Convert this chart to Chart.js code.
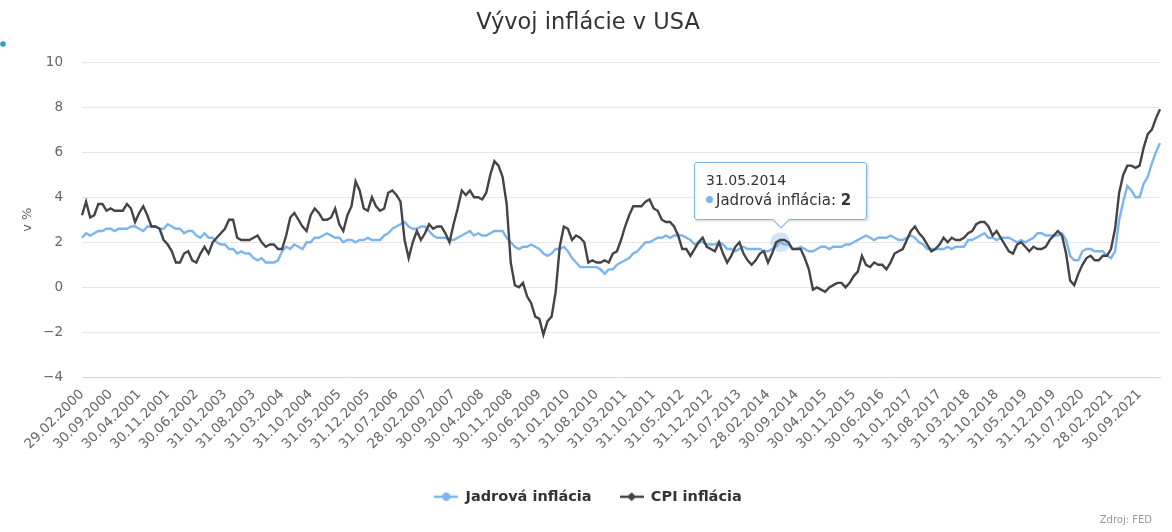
<!DOCTYPE html>
<html>
<head>
<meta charset="utf-8">
<title>Vývoj inflácie v USA</title>
<script src="https://cdn.jsdelivr.net/npm/chart.js@4/dist/chart.umd.min.js"></script>
<style>
  html, body { margin: 0; padding: 0; background: #fff; }
  #wrap { position: relative; width: 1172px; height: 532px; }
  #tip {
    position: absolute; display: none; pointer-events: none;
    background: rgba(255,255,255,0.97); border: 1px solid #7cb5ec; border-radius: 3px;
    box-shadow: 1px 1px 3px rgba(0,0,0,0.18);
    padding: 8px 15px 8px 11px; font-family: "DejaVu Sans", sans-serif; color: #333; white-space: nowrap;
  }
  #tip:after {
    content: ""; position: absolute; left: 50%; bottom: -7px; width: 11px; height: 11px; margin-left: -6px;
    background: #fff; border-right: 1px solid #7cb5ec; border-bottom: 1px solid #7cb5ec; transform: rotate(45deg);
  }
  #tip .head { font-size: 14px; line-height: 18px; }
  #tip .body { font-size: 15px; line-height: 22px; }
  #tip .dot { display: inline-block; width: 7px; height: 7px; border-radius: 50%; background: #7cb5ec; margin-right: 3px; vertical-align: 2px; }
</style>
</head>
<body>
<div id="wrap">
  <canvas id="chart" width="1172" height="532"></canvas>
  <div id="tip"><div class="head"></div><div class="body"><span class="dot"></span><span class="name"></span><b class="val"></b></div></div>
</div>
<script>
// monthly values, Feb 2000 .. Feb 2022 (year-over-year, %)
const coreInflation = [
  2.2, 2.4, 2.3, 2.4, 2.5, 2.5, 2.6, 2.6, 2.5, 2.6, 2.6,
  2.6, 2.7, 2.7, 2.6, 2.5, 2.7, 2.7, 2.7, 2.6, 2.6, 2.8, 2.7,
  2.6, 2.6, 2.4, 2.5, 2.5, 2.3, 2.2, 2.4, 2.2, 2.2, 2.0, 1.9,
  1.9, 1.7, 1.7, 1.5, 1.6, 1.5, 1.5, 1.3, 1.2, 1.3, 1.1, 1.1,
  1.1, 1.2, 1.6, 1.8, 1.7, 1.9, 1.8, 1.7, 2.0, 2.0, 2.2, 2.2,
  2.3, 2.4, 2.3, 2.2, 2.2, 2.0, 2.1, 2.1, 2.0, 2.1, 2.1, 2.2,
  2.1, 2.1, 2.1, 2.3, 2.4, 2.6, 2.7, 2.8, 2.9, 2.7, 2.6, 2.6,
  2.7, 2.7, 2.5, 2.3, 2.2, 2.2, 2.2, 2.1, 2.1, 2.2, 2.3, 2.4,
  2.5, 2.3, 2.4, 2.3, 2.3, 2.4, 2.5, 2.5, 2.5, 2.2, 2.0, 1.8,
  1.7, 1.8, 1.8, 1.9, 1.8, 1.7, 1.5, 1.4, 1.5, 1.7, 1.7, 1.8,
  1.6, 1.3, 1.1, 0.9, 0.9, 0.9, 0.9, 0.9, 0.8, 0.6, 0.8, 0.8,
  1.0, 1.1, 1.2, 1.3, 1.5, 1.6, 1.8, 2.0, 2.0, 2.1, 2.2, 2.2,
  2.3, 2.2, 2.3, 2.3, 2.3, 2.2, 2.1, 1.9, 2.0, 2.0, 1.9, 1.9,
  1.9, 2.0, 1.9, 1.7, 1.7, 1.6, 1.7, 1.8, 1.7, 1.7, 1.7, 1.7,
  1.6, 1.6, 1.7, 1.8, 2.0, 1.9, 1.9, 1.7, 1.7, 1.8, 1.7, 1.6,
  1.6, 1.7, 1.8, 1.8, 1.7, 1.8, 1.8, 1.8, 1.9, 1.9, 2.0, 2.1,
  2.2, 2.3, 2.2, 2.1, 2.2, 2.2, 2.2, 2.3, 2.2, 2.1, 2.1, 2.2,
  2.3, 2.2, 2.0, 1.9, 1.7, 1.7, 1.7, 1.7, 1.7, 1.8, 1.7, 1.8,
  1.8, 1.8, 2.1, 2.1, 2.2, 2.3, 2.4, 2.2, 2.2, 2.1, 2.2, 2.2,
  2.2, 2.1, 2.0, 2.1, 2.0, 2.1, 2.2, 2.4, 2.4, 2.3, 2.3, 2.3,
  2.3, 2.4, 2.1, 1.4, 1.2, 1.2, 1.6, 1.7, 1.7, 1.6, 1.6, 1.6,
  1.4, 1.3, 1.6, 3.0, 3.8, 4.5, 4.3, 4.0, 4.0, 4.6, 4.9, 5.5,
  6.0, 6.4
];
const cpiInflation = [
  3.2, 3.8, 3.1, 3.2, 3.7, 3.7, 3.4, 3.5, 3.4, 3.4, 3.4,
  3.7, 3.5, 2.9, 3.3, 3.6, 3.2, 2.7, 2.7, 2.6, 2.1, 1.9, 1.6,
  1.1, 1.1, 1.5, 1.6, 1.2, 1.1, 1.5, 1.8, 1.5, 2.0, 2.2, 2.4,
  2.6, 3.0, 3.0, 2.2, 2.1, 2.1, 2.1, 2.2, 2.3, 2.0, 1.8, 1.9,
  1.9, 1.7, 1.7, 2.3, 3.1, 3.3, 3.0, 2.7, 2.5, 3.2, 3.5, 3.3,
  3.0, 3.0, 3.1, 3.5, 2.8, 2.5, 3.2, 3.6, 4.7, 4.3, 3.5, 3.4,
  4.0, 3.6, 3.4, 3.5, 4.2, 4.3, 4.1, 3.8, 2.1, 1.3, 2.0, 2.5,
  2.1, 2.4, 2.8, 2.6, 2.7, 2.7, 2.4, 2.0, 2.8, 3.5, 4.3, 4.1,
  4.3, 4.0, 4.0, 3.9, 4.2, 5.0, 5.6, 5.4, 4.9, 3.7, 1.1, 0.1,
  0.0, 0.2, -0.4, -0.7, -1.3, -1.4, -2.1, -1.5, -1.3, -0.2, 1.8, 2.7,
  2.6, 2.1, 2.3, 2.2, 2.0, 1.1, 1.2, 1.1, 1.1, 1.2, 1.1, 1.5,
  1.6, 2.1, 2.7, 3.2, 3.6, 3.6, 3.6, 3.8, 3.9, 3.5, 3.4, 3.0,
  2.9, 2.9, 2.7, 2.3, 1.7, 1.7, 1.4, 1.7, 2.0, 2.2, 1.8, 1.7,
  1.6, 2.0, 1.5, 1.1, 1.4, 1.8, 2.0, 1.5, 1.2, 1.0, 1.2, 1.5,
  1.6, 1.1, 1.5, 2.0, 2.1, 2.1, 2.0, 1.7, 1.7, 1.7, 1.3, 0.8,
  -0.1, 0.0, -0.1, -0.2, 0.0, 0.1, 0.2, 0.2, 0.0, 0.2, 0.5, 0.7,
  1.4, 1.0, 0.9, 1.1, 1.0, 1.0, 0.8, 1.1, 1.5, 1.6, 1.7, 2.1,
  2.5, 2.7, 2.4, 2.2, 1.9, 1.6, 1.7, 1.9, 2.2, 2.0, 2.2, 2.1,
  2.1, 2.2, 2.4, 2.5, 2.8, 2.9, 2.9, 2.7, 2.3, 2.5, 2.2, 1.9,
  1.6, 1.5, 1.9, 2.0, 1.8, 1.6, 1.8, 1.7, 1.7, 1.8, 2.1, 2.3,
  2.5, 2.3, 1.5, 0.3, 0.1, 0.6, 1.0, 1.3, 1.4, 1.2, 1.2, 1.4,
  1.4, 1.7, 2.6, 4.2, 5.0, 5.4, 5.4, 5.3, 5.4, 6.2, 6.8, 7.0,
  7.5, 7.9
];
const seriesNames = ["Jadrová inflácia", "CPI inflácia"];
const yTicks = [-4, -2, 0, 2, 4, 6, 8, 10];
const firstMonth = [2000, 2];   // year, month of the first value
const labelEvery = 7;           // every 7th month gets a tick label
const hoverIndex = 171;         // 31.05.2014, shown in the tooltip

// month-end dates as dd.mm.yyyy
const labels = coreInflation.map((_, i) => {
  const m = firstMonth[1] - 1 + i;
  const y = firstMonth[0] + Math.floor(m / 12);
  const mm = m % 12;
  const d = new Date(y, mm + 1, 0).getDate();
  return String(d).padStart(2, "0") + "." + String(mm + 1).padStart(2, "0") + "." + y;
});

const FONT = "'DejaVu Sans', sans-serif";

// legend symbols: short line with marker
function legendIcon(color, shape) {
  const c = document.createElement("canvas");
  c.width = 24; c.height = 12;
  const g = c.getContext("2d");
  g.strokeStyle = color; g.lineWidth = 2.4;
  g.beginPath(); g.moveTo(0, 6); g.lineTo(24, 6); g.stroke();
  g.fillStyle = color;
  g.beginPath();
  if (shape === "circle") g.arc(12, 6, 4.2, 0, Math.PI * 2);
  else { g.moveTo(12, 1.5); g.lineTo(16.5, 6); g.lineTo(12, 10.5); g.lineTo(7.5, 6); g.closePath(); }
  g.fill();
  return c;
}
const legendIcons = [legendIcon("#7cb5ec", "circle"), legendIcon("#434348", "diamond")];

function externalTooltip(context) {
  const {tooltip} = context;
  const el = document.getElementById("tip");
  if (tooltip.opacity === 0 || !tooltip.dataPoints || !tooltip.dataPoints.length) { el.style.display = "none"; return; }
  const dp = tooltip.dataPoints[0];
  el.querySelector(".head").textContent = dp.label;
  el.querySelector(".name").textContent = dp.dataset.label + ": ";
  el.querySelector(".val").textContent = dp.formattedValue;
  el.style.display = "block";
  el.style.left = Math.round(tooltip.caretX - el.offsetWidth / 2) + "px";
  el.style.top = Math.round(tooltip.caretY - 22 - el.offsetHeight) + "px";
}

const extras = {
  id: "extras",
  afterDraw(chart) {
    const ctx = chart.ctx;
    ctx.save();
    ctx.fillStyle = "#999";
    ctx.font = "10px " + FONT;
    ctx.textAlign = "right";
    ctx.textBaseline = "middle";
    ctx.fillText("Zdroj: FED", 1152, 520);
    ctx.fillStyle = "#2a9fd6";
    ctx.beginPath(); ctx.arc(3, 44, 2.8, 0, Math.PI * 2); ctx.fill();
    ctx.restore();
  }
};

const chart = new Chart(document.getElementById("chart"), {
  type: "line",
  data: {
    labels,
    datasets: [
      {
        label: seriesNames[0], data: coreInflation, order: 1,
        borderColor: "#7cb5ec", backgroundColor: "#7cb5ec", borderWidth: 2.4,
        pointRadius: 0, pointHoverRadius: 10, pointHoverBorderWidth: 0,
        pointHoverBackgroundColor: "rgba(124,181,236,0.35)", tension: 0
      },
      {
        label: seriesNames[1], data: cpiInflation, order: 0,
        borderColor: "#434348", backgroundColor: "#434348", borderWidth: 2.4,
        pointRadius: 0, pointHoverRadius: 0, tension: 0
      }
    ]
  },
  options: {
    responsive: false,
    animation: false,
    events: [],
    layout: { padding: { left: 16, right: 12, top: 0, bottom: 18 } },
    plugins: {
      title: {
        display: true, text: "Vývoj inflácie v USA", color: "#333",
        font: { family: FONT, size: 22.5, weight: "normal" },
        padding: { top: 10, bottom: 25 }
      },
      legend: {
        position: "bottom",
        labels: {
          usePointStyle: true, pointStyleWidth: 24, padding: 28,
          color: "#333", font: { family: FONT, size: 14.5, weight: "bold" },
          generateLabels(ch) {
            const items = Chart.defaults.plugins.legend.labels.generateLabels(ch);
            items.sort((a, b) => a.datasetIndex - b.datasetIndex);
            items.forEach(it => { it.pointStyle = legendIcons[it.datasetIndex]; });
            return items;
          }
        }
      },
      tooltip: { enabled: false, external: externalTooltip, mode: "nearest", intersect: false }
    },
    scales: {
      x: {
        type: "category",
        offset: false,
        grid: { display: false, drawTicks: false },
        border: { display: true, color: "#ccd6eb", width: 1 },
        ticks: {
          autoSkip: false, minRotation: 45, maxRotation: 45, padding: 9,
          color: "#666", font: { family: FONT, size: 13.5 }
        },
        afterBuildTicks(s) { s.ticks = s.ticks.filter(t => t.value % labelEvery === 0); },
        afterFit(s) { s.height = 84; }
      },
      y: {
        min: yTicks[0], max: yTicks[yTicks.length - 1],
        grid: { color: "#e6e6e6", drawTicks: false },
        border: { display: false },
        ticks: {
          stepSize: yTicks[1] - yTicks[0], padding: 19, color: "#666", font: { family: FONT, size: 13.5 },
          callback: v => String(v).replace("-", "\u2212")
        },
        title: { display: true, text: "v %", color: "#666", font: { family: FONT, size: 13 } },
        afterFit(s) { s.width = 66; }
      }
    }
  },
  plugins: [extras]
});

const active = [{ datasetIndex: 0, index: hoverIndex }];
chart.setActiveElements(active);
chart.tooltip.setActiveElements(active, { x: 0, y: 0 });
chart.update();
</script>
</body>
</html>
